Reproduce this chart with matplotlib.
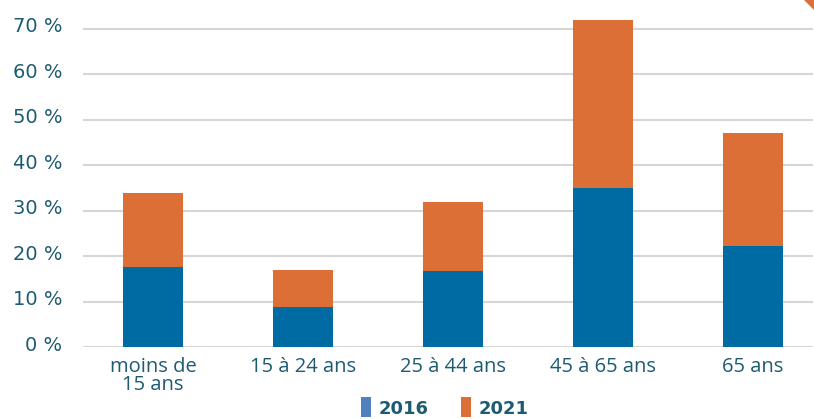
import matplotlib
matplotlib.use("Agg")
import matplotlib.pyplot as plt
import matplotlib.transforms as mtransforms
from matplotlib.patches import Rectangle, Polygon
import numpy as np

categories = ["moins de\n15 ans", "15 à 24 ans", "25 à 44 ans", "45 à 65 ans", "65 ans"]
v2016 = [17.7, 8.9, 16.7, 34.9, 22.3]
v2021 = [16.2, 8.1, 15.3, 37.1, 24.8]
yticks = [0, 10, 20, 30, 40, 50, 60, 70]
ytick_labels = ["0 %", "10 %", "20 %", "30 %", "40 %", "50 %", "60 %", "70 %"]
series_names = ["2016", "2021"]

c_blue = "#006BA3"
c_orange = "#DC6F36"
c_blue_leg = "#4F81BD"
c_text = "#1D5B73"
c_grid = "#D6D6D6"

W, H = 814, 419
fig = plt.figure(figsize=(W/100, H/100), dpi=100)
ax = fig.add_axes([83/W, 1-347/H, 730/W, 347/H])

x = np.arange(len(categories))
ax.bar(x, v2016, width=0.4, color=c_blue, zorder=3)
ax.bar(x, v2021, width=0.4, bottom=v2016, color=c_orange, zorder=3)

ax.set_xlim(-70/150, 660/150)
ax.set_ylim(0, 347/4.543)
ax.set_yticks(yticks)
ax.set_yticklabels(ytick_labels, fontsize=14, color=c_text, family=["DejaVu Sans"])
ax.set_xticks(x)
ax.set_xticklabels(categories, fontsize=14.5, color=c_text, linespacing=0.9,
                   family=["Open Sans", "DejaVu Sans"])
ax.tick_params(axis="both", length=0)
ax.tick_params(axis="y", pad=15)
ax.tick_params(axis="x", pad=7)
ax.yaxis.grid(True, color=c_grid, linewidth=1.5, zorder=0)
ax.set_axisbelow(True)
for s in ax.spines.values():
    s.set_visible(False)

offset = mtransforms.ScaledTranslation(0, 4/100, fig.dpi_scale_trans)
for lab in ax.get_yticklabels():
    lab.set_transform(lab.get_transform() + offset)

# legend (manual placement)
leg_colors = [c_blue_leg, c_orange]
leg_x0 = [361, 461]
for name, col, lx in zip(series_names, leg_colors, leg_x0):
    fig.patches.append(Rectangle((lx/W, 1-417/H), 10/W, 20/H, transform=fig.transFigure,
                                 facecolor=col, edgecolor="none"))
    fig.text((lx+18)/W, 1-409/H, name, fontsize=13, fontweight="bold", color=c_text,
             family=["DejaVu Sans"], ha="left", va="center")

fig.patches.append(Polygon([[804/W, 1], [1, 1], [1, 1-10/H]], closed=True,
                           transform=fig.transFigure, facecolor=c_orange, edgecolor="none"))

fig.savefig("out.png", dpi=100)
